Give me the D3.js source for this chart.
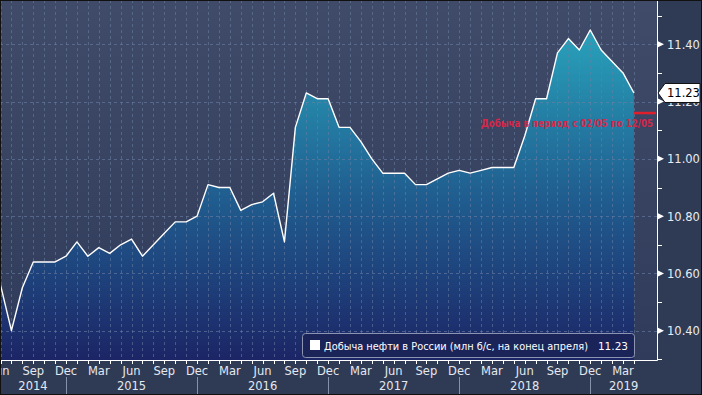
<!DOCTYPE html>
<html>
<head>
<meta charset="utf-8">
<script src="https://cdn.jsdelivr.net/npm/d3@7"></script>
<style>
  body { margin: 0; background: #2f3b54; }
  svg { display: block; }
  text { font-family: "DejaVu Sans", sans-serif; }
</style>
</head>
<body>
<div id="chart"></div>
<script>
// monthly oil output, Jun 2014 .. Apr 2019 (mln b/d)
const startYear = 2014, startMonth = 5; // June
const output = [
  10.56, 10.40, 10.55, 10.64, 10.64, 10.64, 10.66,
  10.71, 10.66, 10.69, 10.67, 10.70, 10.72, 10.66, 10.70, 10.74, 10.78, 10.78, 10.80,
  10.91, 10.90, 10.90, 10.82, 10.84, 10.85, 10.88, 10.71, 11.11, 11.23, 11.21, 11.21,
  11.11, 11.11, 11.06, 11.00, 10.95, 10.95, 10.95, 10.91, 10.91, 10.93, 10.95, 10.96,
  10.95, 10.96, 10.97, 10.97, 10.97, 11.08, 11.21, 11.21, 11.37, 11.42, 11.38, 11.45,
  11.38, 11.34, 11.30, 11.23
];
const monthNames = ["Jan","Feb","Mar","Apr","May","Jun","Jul","Aug","Sep","Oct","Nov","Dec"];
const years = [2014, 2015, 2016, 2017, 2018, 2019];
const majorTicks = [10.40, 10.60, 10.80, 11.00, 11.20, 11.40];
const minorTicks = [10.30, 10.50, 10.70, 10.90, 11.10, 11.30, 11.50];
const lastValue = 11.23;
const mayLevel = 11.16;   // red marker: output 02/05 - 12/05
const legendText = "Добыча нефти в России (млн б/с, на конец апреля)";
const noteText = "Добыча в период с 02/05 по 12/05";

const W = 702, H = 395;
const plotR = 657, plotB = 360;

const svg = d3.select("#chart").append("svg")
  .attr("width", W).attr("height", H);

// month index -> x
const x = d3.scaleLinear().domain([0, 57]).range([0.5, 623]);
const y = d3.scaleLinear().domain([10.40, 11.40]).range([330.7, 44.3]);
const mIndex = (yr, mo) => (yr - startYear) * 12 + (mo - startMonth);

const defs = svg.append("defs");
const bg = defs.append("linearGradient").attr("id", "bg")
  .attr("gradientUnits", "userSpaceOnUse").attr("x1", 0).attr("x2", 0).attr("y1", 0).attr("y2", plotB);
bg.append("stop").attr("offset", 0).attr("stop-color", "#3f4b68");
bg.append("stop").attr("offset", 1).attr("stop-color", "#303b5b");
const fillGrad = defs.append("linearGradient").attr("id", "fillGrad")
  .attr("gradientUnits", "userSpaceOnUse").attr("x1", 0).attr("x2", 0).attr("y1", 30).attr("y2", plotB);
fillGrad.append("stop").attr("offset", 0).attr("stop-color", "#28a2bb");
fillGrad.append("stop").attr("offset", 0.5).attr("stop-color", "#205e90");
fillGrad.append("stop").attr("offset", 1).attr("stop-color", "#1c2566");
defs.append("clipPath").attr("id", "clip").append("rect")
  .attr("x", 0).attr("y", 0).attr("width", plotR).attr("height", plotB);

svg.append("rect").attr("width", W).attr("height", H).attr("fill", "#2f3b54");
svg.append("rect").attr("width", plotR).attr("height", plotB).attr("fill", "url(#bg)");

const plot = svg.append("g").attr("clip-path", "url(#clip)");

// area + line
const area = d3.area()
  .x((d, i) => x(i)).y0(plotB).y1(d => y(d));
const line = d3.line()
  .x((d, i) => x(i)).y(d => y(d));
plot.append("path").datum(output).attr("d", area).attr("fill", "url(#fillGrad)");

// grid
const months = d3.range(output.length);
plot.selectAll(".vgrid").data(months).enter().append("line")
  .attr("x1", d => Math.round(x(d)) + 0.5).attr("x2", d => Math.round(x(d)) + 0.5)
  .attr("y1", 0).attr("y2", plotB)
  .attr("stroke", "#6c7fa3").attr("stroke-opacity", 0.55)
  .attr("stroke-dasharray", "3,3");
plot.selectAll(".hgrid").data(majorTicks).enter().append("line")
  .attr("x1", 0).attr("x2", plotR)
  .attr("y1", d => Math.round(y(d)) + 0.5).attr("y2", d => Math.round(y(d)) + 0.5)
  .attr("stroke", "#6c7fa3").attr("stroke-opacity", 0.6)
  .attr("stroke-dasharray", "3,3");

plot.append("path").datum(output).attr("d", line)
  .attr("fill", "none").attr("stroke", "#ffffff").attr("stroke-width", 1.4)
  .attr("stroke-linejoin", "round");

// axes lines
svg.append("line").attr("x1", 0).attr("x2", plotR + 0.5)
  .attr("y1", plotB + 0.5).attr("y2", plotB + 0.5).attr("stroke", "#fff");
svg.append("line").attr("x1", plotR + 0.5).attr("x2", plotR + 0.5)
  .attr("y1", 0).attr("y2", plotB + 0.5).attr("stroke", "#fff");

// month ticks + labels
svg.selectAll(".mtick").data(months).enter().append("line")
  .attr("x1", d => Math.round(x(d)) + 0.5).attr("x2", d => Math.round(x(d)) + 0.5)
  .attr("y1", plotB).attr("y2", plotB + 4).attr("stroke", "#fff");
const labelled = months.filter(m => (m + startMonth) % 3 === 2 && m <= 57);
svg.selectAll(".mlab").data(labelled).enter().append("text")
  .attr("x", d => x(d)).attr("y", 375)
  .attr("text-anchor", "middle").attr("font-size", 11.5).attr("fill", "#e4e8f0")
  .text(d => monthNames[(d + startMonth) % 12]);

// year separators at December
const decs = years.slice(0, -1).map(yr => mIndex(yr, 11));
svg.selectAll(".ysep").data(decs).enter().append("line")
  .attr("x1", d => Math.round(x(d)) + 0.5).attr("x2", d => Math.round(x(d)) + 0.5)
  .attr("y1", 377).attr("y2", H).attr("stroke", "#8591a8");
const yearBounds = [0].concat(decs.map(d => x(d))).concat([plotR]);
svg.selectAll(".ylab").data(years).enter().append("text")
  .attr("x", (d, i) => (yearBounds[i] + yearBounds[i + 1]) / 2).attr("y", 390)
  .attr("text-anchor", "middle").attr("font-size", 11.5).attr("fill", "#e4e8f0")
  .text(d => d);

// right axis
svg.selectAll(".minor").data(minorTicks).enter().append("line")
  .attr("x1", plotR).attr("x2", plotR + 5)
  .attr("y1", d => Math.round(y(d)) + 0.5).attr("y2", d => Math.round(y(d)) + 0.5)
  .attr("stroke", "#fff");
svg.selectAll(".major").data(majorTicks).enter().append("path")
  .attr("d", d => `M${plotR},${y(d) - 3.5}L${plotR + 7},${y(d)}L${plotR},${y(d) + 3.5}Z`)
  .attr("fill", "#fff");
svg.selectAll(".ylabR").data(majorTicks).enter().append("text")
  .attr("x", 667).attr("y", d => y(d) + 4.5)
  .attr("font-size", 11.5).attr("fill", "#e8ebf2")
  .text(d => d.toFixed(2));

// red marker + note
svg.append("line").attr("x1", x(58)).attr("x2", plotR - 1)
  .attr("y1", y(mayLevel)).attr("y2", y(mayLevel))
  .attr("stroke", "#e01f2d").attr("stroke-width", 2.5);
svg.append("text").attr("x", 653).attr("y", 127)
  .attr("text-anchor", "end").attr("font-family", "Liberation Sans, Arial, sans-serif")
  .attr("font-weight", "bold").attr("font-size", 10).attr("fill", "#d4284a")
  .attr("textLength", 172).attr("lengthAdjust", "spacingAndGlyphs")
  .text(noteText);

// last value tag
const ly = y(lastValue);
svg.append("path")
  .attr("d", `M658,${ly}L665,${ly - 9.5}L700,${ly - 9.5}L700,${ly + 9.5}L665,${ly + 9.5}Z`)
  .attr("fill", "#fff").attr("stroke", "#111").attr("stroke-width", 1);
svg.append("text").attr("x", 667).attr("y", ly + 4.5)
  .attr("font-size", 11.5).attr("fill", "#000").text(lastValue.toFixed(2));

// legend
const lg = svg.append("g");
lg.append("rect").attr("x", 302.5).attr("y", 333.5).attr("width", 332).attr("height", 24)
  .attr("rx", 3).attr("fill", "#1b2459").attr("stroke", "#8c94b0");
lg.append("rect").attr("x", 310).attr("y", 340).attr("width", 10).attr("height", 10).attr("fill", "#fff");
lg.append("text").attr("x", 324).attr("y", 349.5)
  .attr("font-size", 10.5).attr("fill", "#fff")
  .attr("textLength", 264).attr("lengthAdjust", "spacingAndGlyphs")
  .text(legendText);
lg.append("text").attr("x", 628).attr("y", 349.5).attr("text-anchor", "end")
  .attr("font-size", 10.5).attr("fill", "#fff").text(lastValue.toFixed(2));

// outer frame
svg.append("rect").attr("x", 0.5).attr("y", 0.5).attr("width", W - 1).attr("height", H - 1)
  .attr("fill", "none").attr("stroke", "#111");
</script>
</body>
</html>
